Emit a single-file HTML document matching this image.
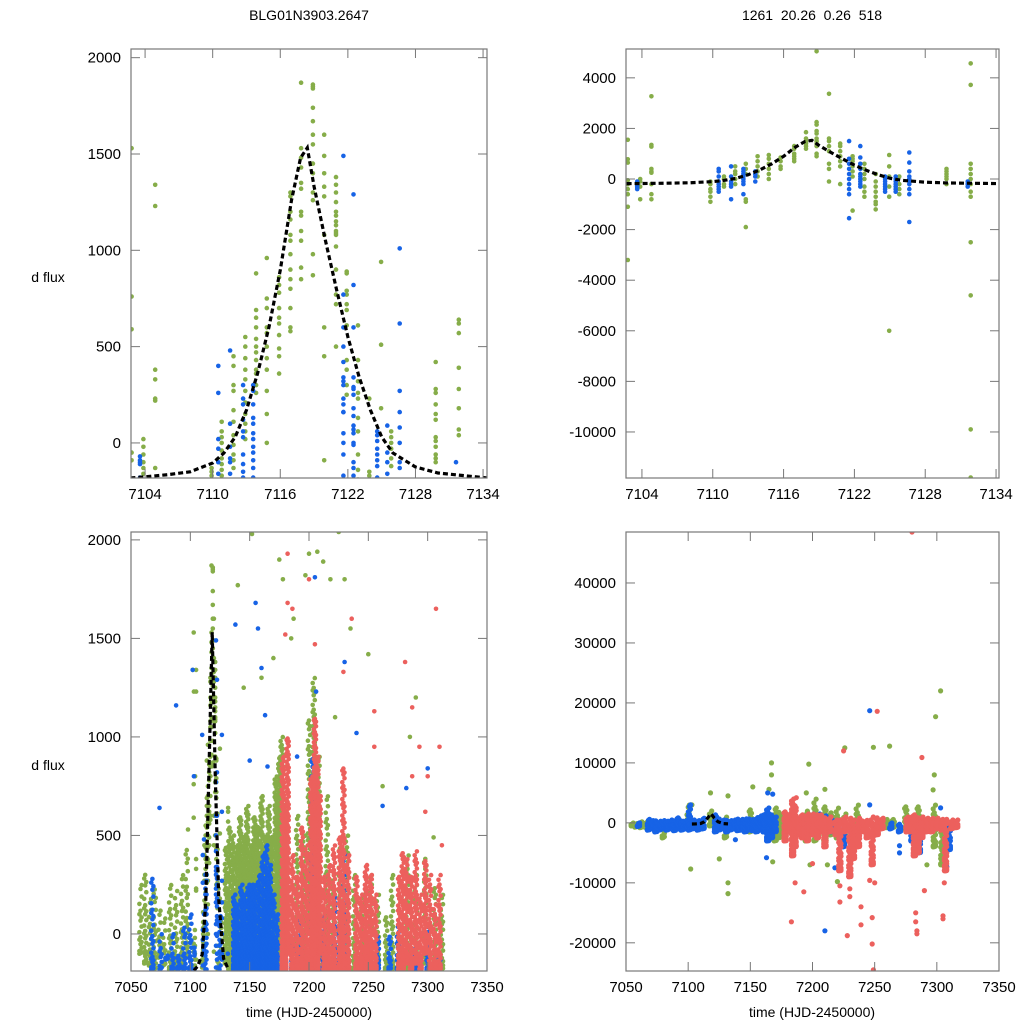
<!DOCTYPE html>
<html><head><meta charset="utf-8"><style>
html,body{margin:0;padding:0;background:#fff;}
svg{display:block;font-family:"Liberation Sans",sans-serif;}
</style></head><body>
<svg id="chart" width="1024" height="1024" viewBox="0 0 1024 1024" xmlns="http://www.w3.org/2000/svg">
<rect width="1024" height="1024" fill="#fff"/>
<text x="309" y="20" font-size="14" text-anchor="middle">BLG01N3903.2647</text>
<text x="812" y="20" font-size="14" text-anchor="middle" xml:space="preserve">1261  20.26  0.26  518</text>
<text x="48" y="282" font-size="14" text-anchor="middle">d flux</text>
<text x="48" y="770" font-size="14" text-anchor="middle">d flux</text>
<text x="309" y="1017" font-size="14" text-anchor="middle">time (HJD-2450000)</text>
<text x="812" y="1017" font-size="14" text-anchor="middle">time (HJD-2450000)</text>
</svg>
<script>
// ---- model curve ----
const modelT = [7102.7,7104,7106,7108,7110,7111,7112,7113,7114,7115,7116,7117,7117.8,7118.4,7119,7120,7121,7122,7123,7124,7125,7126,7128,7130,7134.4];
const modelV = [-182,-176,-165,-150,-104,-52,31,171,363,602,898,1260,1480,1532,1330,1054,795,550,343,171,31,-52,-125,-156,-182];
const modelTFull = [7103,7106,7110,7113,7116,7118.4,7121,7124,7128,7132];
const modelVFull = [-185,-165,-104,171,898,1532,795,171,-125,-180];

// ---- top-left: [t, values...] ----
const tlGreen = [
[7102.8,1530,760,590,-50,-90],[7103.85,20,-20,-60,-100,-130,-160],[7104.9,1340,1230,380,330,230,220,-130],
[7109.9,-130,-150,-170],[7110.8,110,60,30,0,-40,-80,-110,-140,-170],[7111.85,450,400,300,270,170,110,40,-10,-60,-90,-130],
[7112.9,550,500,440,380,330,270,210,150,100,60,20],[7113.85,880,690,650,600,540,500,470,430,380,360,300,260],
[7114.8,960,750,700,600,570,500,440,380,270,150,0],[7115.9,860,820,780,700,650,620,560,490,450,360],
[7116.9,1300,1280,1200,1160,1080,1050,980,900,850,800,700,600,580],[7117.85,1870,1530,1480,1430,1350,1320,1200,1180,1100,1050,910,850],
[7118.9,1860,1850,1840,1740,1670,1600,1550,1450,1400,1300,1260,980,870],[7119.9,1600,1490,1400,1330,1280,1080,600,450,-90],
[7120.95,1380,1340,1300,1250,1200,1180,1150,1130,1100,1090,1080,1020,900,770,720,500],[7121.9,890,880,790,770,720,690,610,430,380,300,250],
[7122.9,610,430,320,260,230,130,60,-60,-140,-190],[7123.9,230,-150,-170],[7124.95,940,510,180],[7125.85,60,30,0,-30,-80,-120],
[7129.8,420,280,260,200,150,120,30,10,-20,-60,-80,-100],[7131.85,640,620,570,390,280,180,70,40]];
const tlBlue = [
[7103.55,-70,-90,-100,-110,-180],[7110.5,400,260,20,-30,-100,-160],[7111.55,480,100,-20,-80,-100,-160],
[7112.7,300,230,200,120,60,30,-60,-110,-150,-180],[7113.6,300,270,200,130,100,50,20,-20,-50,-90,-130,-180],
[7121.6,1490,770,600,500,420,340,320,300,230,200,160,160,50,0,-60,-170],
[7122.5,1290,820,600,340,290,280,250,180,140,90,70,50,0,-10,-100,-130,-170],
[7124.6,60,40,10,-30,-60,-90,-120,-180],[7125.5,90,-50,-100,-160],[7126.6,1010,620,270,160,80,0,-100,-130],[7131.6,-100]];

// ---- top-right ----
const trGreen = [
[7102.8,1550,780,650,-50,-200,-400,-600,-1100,-3200],[7103.85,0,-100,-300,-800],[7104.8,3270,1350,1280,400,300,250,-200,-600,-800],
[7109.8,-100,-200,-400,-500,-700,-900],[7110.95,100,0,-200,-300],[7111.9,500,300,200,0,-200],[7112.8,600,400,200,-800,-900,-1900],
[7113.8,900,700,500,300,100],[7114.75,950,800,600,400,200,0],[7115.75,850,700,500,400],[7116.9,1300,1200,1000,900,800,700],
[7117.9,1850,1600,1500,1400,1300,1200],[7118.8,5050,2250,2150,1900,1800,1600,1500,1400,1300,1000,900],
[7119.85,3370,1600,1500,1300,1100,600,400,-100],[7120.8,1400,1300,1100,900,700,500,-200],[7121.85,900,800,700,500,300,100,-1250],
[7122.85,600,400,200,0,-300,-500,-700],[7123.8,200,-100,-300,-500,-700,-900,-1000,-1200],[7124.95,950,500,100,-300,-700,-6000],
[7125.8,100,-200,-400,-600],[7129.8,400,300,200,100,0,-200],
[7131.85,4570,3720,600,400,200,0,-200,-500,-700,-2500,-4600,-9900,-11800]];
const trBlue = [
[7103.6,-100,-150,-200,-250,-300,-350,-400],[7110.5,400,300,100,-100,-200,-300,-400,-500],[7111.55,500,100,-100,-200,-300,-800],
[7112.6,400,300,200,100,0,-100,-200,-600],[7113.6,300,200,100,-100],
[7121.55,1500,800,600,400,200,0,-200,-400,-600,-1550],[7122.5,1300,850,600,400,200,100,0,-100,-200,-300],
[7124.6,100,0,-100,-200,-300,-400,-500],[7125.5,100,0,-100,-200,-300,-400,-500],
[7126.65,1050,650,300,100,0,-100,-200,-400,-600,-1700],[7131.6,-100,-200,-300]];

// ---- bottom-left: column bands [t, lo, hi, spacingPx] and outliers [t, v] ----
const blGreenCols = [[7058,-100,250,9],[7062,-150,320,8],[7066,-160,180,8],[7070,-180,250,9],[7074,-120,120,10],[7078,-160,80,9],[7083,-180,250,8],[7088,-180,220,8],[7093,-160,300,8],[7097,-120,450,9],
[7130,-150,450,5],[7133,-180,550,4],[7136,-120,500,4],[7139,-180,450,3],[7142,-180,600,3],[7145,-180,500,3],[7148,-180,650,3],[7151,-180,450,3],[7154,-180,600,3],[7157,-180,550,3],[7160,-150,700,3],[7163,-180,500,3],[7166,-180,650,3],[7169,-180,500,3],[7172,-180,800,3],[7175,-180,900,3],[7177,-180,1000,4],
[7190,-180,600,6],[7196,-180,500,6],[7200,0,1100,6],[7204,-180,1300,5],[7208,-180,900,6],[7215,-100,700,7],[7220,-180,300,6],[7226,-180,450,6],[7232,-180,500,6],[7238,-180,300,7],[7245,-180,200,7],[7252,-180,300,7],[7258,-150,200,7],[7265,-180,100,6],[7270,-180,300,7],[7283,-180,400,7],[7290,-100,300,7],[7298,-150,400,7],[7306,-180,250,7],[7312,-180,200,7]];
const blGreenOut = [[7140,1770],[7152,2030],[7175,1900],[7178,1800],[7187,1600],[7197,1820],[7200,1930],[7207,1940],[7212,1890],[7218,1800],[7225,2040],[7230,1800],[7235,1550],[7250,1420],[7290,1200],[7305,490],[7145,1250],[7160,1300],[7170,1400],[7185,1500],[7222,1100],[7262,750],[7285,1000],[7102,1340],[7103,1230],[7104,800],[7098,530]];
const blBlueCols = [[7068,-180,300,8],[7075,-180,0,8],[7080,-130,-110,6],[7085,-180,0,7],[7090,-180,-100,6],[7095,-180,50,7],[7100,-180,100,7],
[7137,-180,200,3],[7140,-180,150,3],[7143,-180,250,3],[7146,-180,200,3],[7149,-180,250,3],[7152,-180,250,3],[7155,-180,250,3],[7158,-180,300,3],[7161,-180,400,3],[7164,-180,450,3],[7167,-180,350,3],[7170,-180,200,3],[7173,-180,100,4],
[7180,-180,50,5],[7186,-180,0,5],[7193,-180,100,6],[7203,-100,900,5],[7206,-180,350,5],[7212,-180,100,6],[7222,-180,200,6],[7230,-180,400,6],[7248,-180,-100,6],[7258,-180,0,6],[7268,-180,0,6],[7275,-180,50,6],[7290,-180,-50,6],[7300,-180,50,6],[7310,-180,-100,6]];
const blBlueOut = [[7074,640],[7088,1160],[7102,1340],[7103,800],[7110,1010],[7138,1570],[7155,1680],[7157,1550],[7160,1350],[7163,1110],[7205,1810],[7206,1230],[7230,1380],[7240,1020],[7262,650],[7282,740],[7300,840],[7150,880],[7165,850],[7190,900]];
const blRedCols = [[7178,-180,900,3],[7180,-180,650,3],[7182,-100,1000,3],[7186,-180,400,4],[7190,-180,300,4],[7194,-180,550,4],[7198,-180,450,4],[7202,-180,800,3],[7205,-180,1100,3],[7207,-180,900,3],[7209,-100,700,3],[7213,-180,300,4],[7217,-180,350,4],[7221,-180,450,4],[7226,-180,500,4],[7229,-180,850,4],[7233,-180,400,4],[7240,-180,300,4],[7244,-180,200,4],[7248,-180,350,3],[7252,-180,300,3],[7256,-180,200,4],[7276,-180,300,4],[7279,-180,420,4],[7282,-150,380,4],[7286,-180,300,4],[7290,-150,420,4],[7294,-180,200,4],[7298,-100,380,4],[7302,-180,300,5],[7306,-180,150,5],[7310,-180,300,5]];
const blRedOut = [[7182,1930],[7182,1680],[7186,1650],[7180,1520],[7200,1800],[7205,1470],[7236,1600],[7229,1330],[7255,1130],[7255,950],[7281,1380],[7287,1150],[7293,950],[7307,1650],[7310,950],[7300,800],[7287,800],[7298,620],[7312,450]];

// ---- bottom-right ----
const brGreenCols = [[7055,-500,0,3],[7058,-700,-100,3],[7062,-800,200,3],[7066,-700,100,3],[7080,-2500,0,5],[7100,-1000,3000,5],[7118,-500,2000,4],[7130,-2500,1000,5],[7150,-1500,2500,4],[7170,-3000,2500,3],[7173,-2500,2000,3],[7176,-1500,1500,3],[7195,-3000,2000,4],[7202,-3000,4000,4],[7210,-3000,3000,4],[7215,-2000,2000,4],[7220,-2500,2500,4],[7226,-3000,1500,4],[7236,-2000,3000,4],[7255,-1000,500,3],[7260,-800,800,3],[7265,-800,800,3],[7275,-1000,3000,4],[7285,-3000,3000,4],[7298,-4000,3000,4],[7304,-7000,0,4]];
const brGreenOut = [[7102,-7700],[7103,3000],[7125,-6000],[7132,4500],[7132,-10000],[7132,-11800],[7118,5000],[7152,6000],[7167,10000],[7167,8000],[7165,5600],[7168,-6500],[7195,5000],[7197,9800],[7210,5600],[7212,-7000],[7220,-9800],[7226,12500],[7249,12600],[7262,12800],[7299,17700],[7303,22000],[7298,8000],[7297,5500],[7292,-7000],[7305,-7000],[7198,-7000]];
const brBlueCols = [[7060,-600,0,2],[7068,-1200,600,2],[7071,-1000,400,2],[7074,-1500,500,2],[7077,-1200,300,2],[7080,-1000,400,2],[7083,-1200,300,2],[7086,-1000,500,2],[7089,-1300,400,2],[7092,-1000,1000,2],[7095,-1200,300,2],[7098,-1000,400,2],[7101,-1200,3000,3],[7104,-1000,500,2],[7108,-1200,400,2],[7112,-1000,800,2],[7122,-1500,1500,2],[7125,-1200,800,2],[7128,-1000,500,2],[7131,-1500,600,2],[7134,-1200,400,2],[7137,-1000,500,2],[7140,-1300,800,2],[7143,-1200,600,2],[7146,-1500,700,2],[7149,-1200,800,2],[7152,-1300,700,2],[7155,-1500,900,2],[7158,-1200,1200,2],[7161,-1500,1500,2],[7164,-3000,2500,2],[7167,-2500,1500,2],[7170,-1500,1000,2],[7200,-1000,1500,3],[7205,-1000,1500,3],[7210,-800,1200,3],[7215,-1500,500,3],[7225,-4000,0,3],[7243,-1500,0,3],[7263,-1000,0,3],[7270,-1500,0,3],[7280,-3000,500,3],[7286,-5000,0,3],[7310,-4500,0,3]];
const brBlueOut = [[7246,18700],[7164,5000],[7168,4800],[7163,-5800],[7210,-18000],[7218,-7500],[7270,-5000],[7270,-3800],[7308,-7300],[7303,2500],[7246,3000],[7138,-2800],[7102,3000]];
const brRedCols = [[7178,-3000,2000,2],[7181,-1500,1500,2],[7184,-5500,4000,2],[7186,-4000,3000,2],[7188,-2000,1000,2],[7192,-2500,1500,2],[7196,-3000,1500,2],[7200,-2000,1500,2],[7204,-2500,1500,2],[7207,-1500,1500,2],[7210,-4000,1000,2],[7214,-1500,1000,2],[7219,-2000,500,2],[7222,-8000,500,3],[7226,-1500,1000,2],[7230,-9000,800,3],[7233,-6000,500,3],[7237,-4000,800,3],[7240,-1500,500,2],[7244,-2500,600,2],[7248,-7000,1000,3],[7252,-2000,1000,2],[7256,-1000,800,2],[7276,-1500,1000,2],[7279,-1500,1000,2],[7282,-5500,1500,2],[7285,-5000,1000,2],[7288,-2500,1000,2],[7292,-1500,800,2],[7296,-1500,800,2],[7300,-1000,800,2],[7304,-1200,600,2],[7307,-8000,600,3],[7312,-1000,500,2],[7316,-800,500,2]];
const brRedOut = [[7280,48500],[7252,18600],[7225,12000],[7288,10900],[7183,-16500],[7186,-10000],[7193,-11500],[7200,-6800],[7222,-13200],[7222,-10500],[7228,-18800],[7230,-12300],[7230,-11000],[7239,-14000],[7239,-17000],[7248,-15800],[7248,-20200],[7249,-24500],[7250,-10000],[7246,-9600],[7283,-15000],[7283,-16500],[7284,-18000],[7284,-18500],[7290,-11300],[7305,-15500],[7305,-16000],[7306,-10000],[7307,-8000],[7187,4200]];

// ---- tick labels ----
const tlYTicks = [0,500,1000,1500,2000];
const trYTicks = [-10000,-8000,-6000,-4000,-2000,0,2000,4000];
const topXTicks = [7104,7110,7116,7122,7128,7134];
const blYTicks = [0,500,1000,1500,2000];
const brYTicks = [-20000,-10000,0,10000,20000,30000,40000];
const botXTicks = [7050,7100,7150,7200,7250,7300,7350];

const GREEN='#86ad49', BLUE='#1763e6', RED='#ec605d';
const NS='http://www.w3.org/2000/svg';
const svg=document.getElementById('chart');
function mk(tag,attrs,parent){const e=document.createElementNS(NS,tag);for(const k in attrs)e.setAttribute(k,attrs[k]);(parent||svg).appendChild(e);return e;}

function panel(name,L,R,T,B,x0,x1,y0,y1,xt,yt){
  const g=mk('g',{});
  
  
  const sx=t=>L+(t-x0)/(x1-x0)*(R-L);
  const sy=v=>B-(v-y0)/(y1-y0)*(B-T);
  const clipId='clip-'+name;
  const cp=mk('clipPath',{id:clipId},g);mk('rect',{x:L,y:T,width:R-L,height:B-T},cp);
  const plot=mk('g',{'clip-path':'url(#'+clipId+')'},g);
  return {g,plot,sx,sy,L,R,T,B,xt,yt};
}
function frame(p){
  const f=mk('rect',{x:p.L,y:p.T,width:p.R-p.L,height:p.B-p.T,fill:'none',stroke:'#777','stroke-width':1.2},p.g);
  
  
  p.xt.forEach(t=>{const x=p.sx(t);
    mk('line',{x1:x,x2:x,y1:p.B,y2:p.B-9,stroke:'#777'},p.g);
    mk('line',{x1:x,x2:x,y1:p.T,y2:p.T+9,stroke:'#777'},p.g);
    const tx=mk('text',{x:x,y:p.B+21,'font-size':15,'text-anchor':'middle'},p.g);tx.textContent=t;
    
    
  });
  p.yt.forEach(v=>{const y=p.sy(v);
    mk('line',{x1:p.L,x2:p.L+9,y1:y,y2:y,stroke:'#777'},p.g);
    mk('line',{x1:p.R,x2:p.R-9,y1:y,y2:y,stroke:'#777'},p.g);
    const tx=mk('text',{x:p.L-10,y:y+5,'font-size':15,'text-anchor':'end'},p.g);tx.textContent=v;
    
    
  });
}
function dot(p,t,v,c,r){
  const d=mk('circle',{cx:p.sx(t).toFixed(1),cy:p.sy(v).toFixed(1),r:r||2.3,fill:c},p.plot);
  
  
}
function columns(p,rows,c){rows.forEach(r=>{const t=r[0];for(let i=1;i<r.length;i++)dot(p,t,r[i],c);});}
// band: dense at bottom, thinning toward top; three staggered sub-columns
function bands(p,rows,c,r){rows.forEach(row=>{const t=row[0],lo=row[1],hi=row[2],sp=row[3]||4;
  const py=Math.abs(p.sy(lo)-p.sy(hi));const n=Math.max(1,Math.round(py/sp));
  const offs=[-0.9,0,0.9];
  offs.forEach((o,k)=>{
    for(let i=0;i<=n;i++){
      if((i+k)%3===2 && i>0) continue;
      const f=Math.pow((i+k/3)/(n+0.7),1.5);
      dot(p,t+o,lo+(hi-lo)*Math.min(1,f),c,r);
    }
  });
});}
function outs(p,rows,c,r){rows.forEach(row=>dot(p,row[0],row[1],c,r));}
function model(p,T,V){
  const pts=T.map((t,i)=>p.sx(t).toFixed(1)+','+p.sy(V[i]).toFixed(1)).join(' ');
  const l=mk('polyline',{points:pts,fill:'none',stroke:'#000','stroke-width':3.2,'stroke-dasharray':'5,3'},p.plot);
  
  
}

const tl=panel('panel-top-left',131,487,49,478,7102.75,7134.35,-182,2045,topXTicks,tlYTicks);
columns(tl,tlGreen,GREEN);columns(tl,tlBlue,BLUE);model(tl,modelT,modelV);frame(tl);

const tr=panel('panel-top-right',626,999,49,478,7102.65,7134.25,-11820,5140,topXTicks,trYTicks);
columns(tr,trGreen,GREEN);columns(tr,trBlue,BLUE);model(tr,modelT,modelV);frame(tr);

const bl=panel('panel-bottom-left',131,487,532,971,7050,7350,-188,2040,botXTicks,blYTicks);
bands(bl,blGreenCols,GREEN);outs(bl,blGreenOut,GREEN);columns(bl,tlGreen,GREEN);
bands(bl,blBlueCols,BLUE);outs(bl,blBlueOut,BLUE);columns(bl,tlBlue,BLUE);
bands(bl,blRedCols,RED);outs(bl,blRedOut,RED);model(bl,modelTFull,modelVFull);frame(bl);

const br=panel('panel-bottom-right',626,999,532,971,7050,7350,-24700,48500,botXTicks,brYTicks);
bands(br,brGreenCols,GREEN,2.6);outs(br,brGreenOut,GREEN,2.6);
bands(br,brBlueCols,BLUE,2.6);outs(br,brBlueOut,BLUE,2.6);
bands(br,brRedCols,RED,2.6);outs(br,brRedOut,RED,2.6);model(br,modelTFull,modelVFull);frame(br);
</script>
</body></html>
